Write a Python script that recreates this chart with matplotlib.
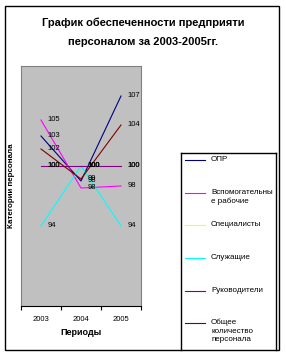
import matplotlib
matplotlib.use("Agg")
import matplotlib.pyplot as plt
from matplotlib.lines import Line2D
from matplotlib.patches import Rectangle
from matplotlib.ticker import FixedLocator, NullFormatter

plt.rcParams['font.family'] = ['Liberation Sans', 'DejaVu Sans']

years = ['2003', '2004', '2005']
series_names = ['ОПР', 'Вспомогательны\nе рабочие', 'Специалисты', 'Служащие',
                'Руководители', 'Общее\nколичество\nперсонала']
opr = [103, 98.5, 107]
vspom = [104.6, 97.8, 98]
spec = [100, 100, 100]
sluzh = [94, 100, 94]
ruk = [100, 100, 100]
obshee = [101.7, 98.7, 104.1]
series_values = [opr, vspom, spec, sluzh, ruk, obshee]
colors = ['#000080', '#FF00FF', '#FFFF00', '#00FFFF', '#800080', '#800000']

W, H = 286, 356
fig = plt.figure(figsize=(W / 100, H / 100), dpi=100)


def fx(px):
    return px / W


def fy(py):
    return 1 - py / H


ax = fig.add_axes([fx(21), fy(306), fx(120), (306 - 66) / H])
ax.set_facecolor('#C0C0C0')
x = list(range(len(years)))
for name, vals, c in zip(series_names, series_values, colors):
    ax.plot(x, vals, color=c, lw=0.8)
    for xi, v in zip(x, vals):
        ax.annotate(f'{v:.0f}', (xi, v), xytext=(5, 0), textcoords='offset points',
                    fontsize=5.5, va='center', ha='left', color='black')

ax.set_xlim(-0.5, 2.5)
ax.set_ylim(86, 110)
ax.set_yticks([])
ax.set_xticks(x)
ax.set_xticklabels(years, fontsize=5.5)
ax.tick_params(axis='x', which='major', length=0, pad=7)
ax.xaxis.set_minor_locator(FixedLocator([-0.5, 0.5, 1.5, 2.5]))
ax.xaxis.set_minor_formatter(NullFormatter())
ax.tick_params(axis='x', which='minor', length=3, width=0.8, direction='out')
for s in ['top', 'left', 'right']:
    ax.spines[s].set_color('#808080')
    ax.spines[s].set_linewidth(0.8)
ax.spines['bottom'].set_color('black')
ax.spines['bottom'].set_linewidth(0.8)

ax.set_xlabel('Периоды', fontsize=6.5, fontweight='bold', labelpad=4)
fig.text(fx(12), fy(186), 'Категории персонала', rotation=90, fontsize=5.8,
         fontweight='bold', ha='center', va='center')

fig.text(fx(143), fy(23), 'График обеспеченности предприяти', fontsize=8,
         fontweight='bold', ha='center', va='center')
fig.text(fx(143), fy(42), 'персоналом за 2003-2005гг.', fontsize=8,
         fontweight='bold', ha='center', va='center')

# outer frame
fig.add_artist(Rectangle((fx(5), fy(350)), fx(274), (350 - 6) / H, transform=fig.transFigure,
                         fill=False, edgecolor='black', lw=1))
# legend box (bottom cut off by frame)
for (x0, y0, x1, y1) in [(181, 153, 276, 153), (181, 153, 181, 350), (276, 153, 276, 350)]:
    fig.add_artist(Line2D([fx(x0), fx(x1)], [fy(y0), fy(y1)], transform=fig.transFigure,
                          color='black', lw=1))

legend_y = [160, 193, 225, 258, 291, 323]
for name, c, ly in zip(series_names, colors, legend_y):
    fig.add_artist(Line2D([fx(185), fx(205)], [fy(ly), fy(ly)], transform=fig.transFigure,
                          color=c, lw=0.8))
    fig.text(fx(211), fy(ly - 4), name, fontsize=5.8, ha='left', va='top',
             linespacing=1.25)

fig.savefig('out.png', dpi=100)
